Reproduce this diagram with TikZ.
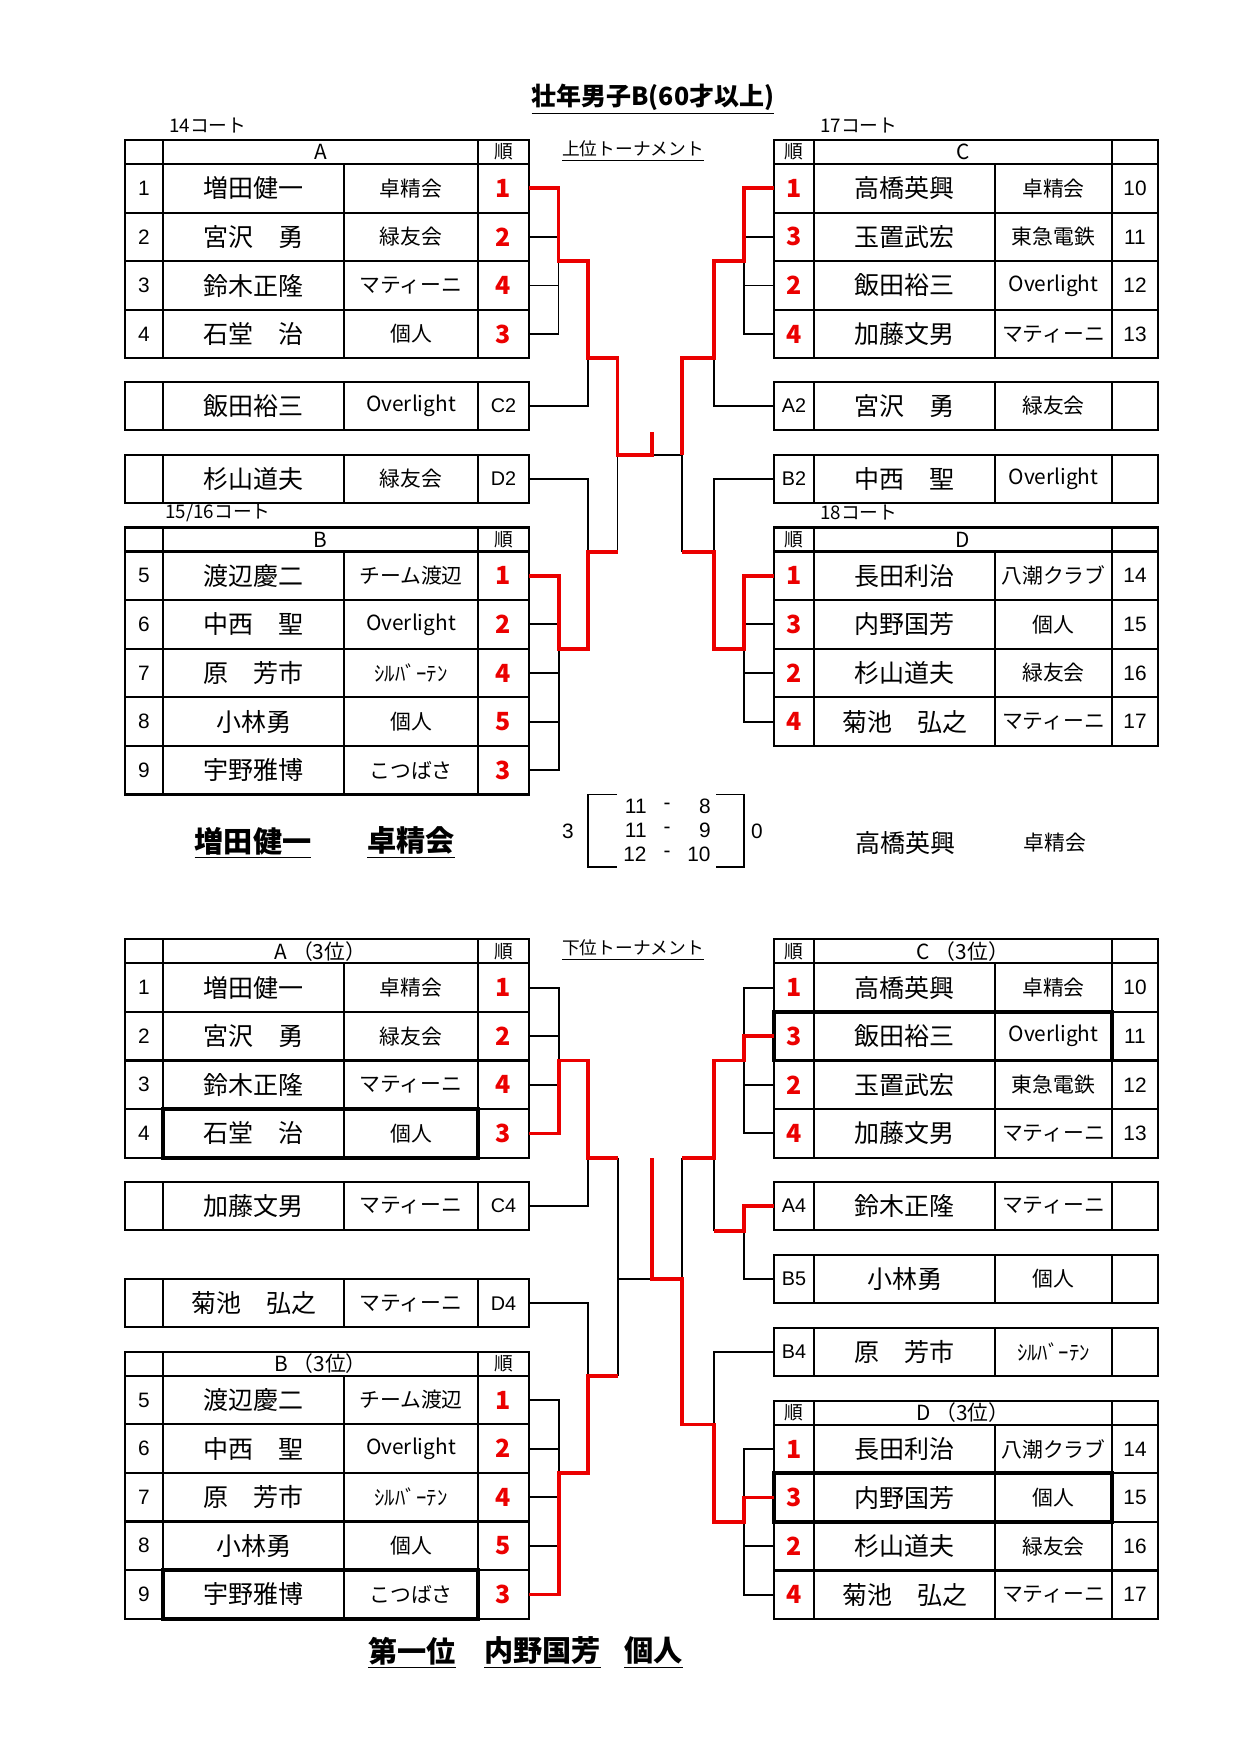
\documentclass[tikz,border=0pt]{standalone}
\usepackage{fontspec}
\setmainfont{Noto Sans CJK JP}
\newfontfamily\latinfont{Liberation Sans}
\usepackage{tikz}
\usetikzlibrary{calc}
\definecolor{rankred}{RGB}{235,0,0}
\tikzstyle{tbl} = [line width=1pt]
\tikzstyle{hilite} = [line width=1.8pt]
\tikzstyle{link} = [line width=0.9pt]
\tikzstyle{win} = [line width=1.8pt,draw=rankred]
\tikzstyle{nametxt} = [inner sep=0pt,font=\fontsize{12}{14}\selectfont]
\tikzstyle{teamtxt} = [inner sep=0pt,font=\fontsize{10}{12}\selectfont]
\tikzstyle{notxt} = [inner sep=0pt,font=\latinfont\fontsize{10}{12}\selectfont]
\tikzstyle{ranktxt} = [inner sep=0pt,text=rankred,font=\bfseries\fontsize{12}{14}\selectfont]
\tikzstyle{labtxt} = [inner sep=0pt,font=\latinfont\fontsize{9.5}{11}\selectfont]
\tikzstyle{headtxt} = [inner sep=0pt,font=\fontsize{10}{12}\selectfont]
\tikzstyle{juntxt} = [inner sep=0pt,font=\fontsize{9}{11}\selectfont]
\tikzstyle{courttxt} = [inner sep=0pt,anchor=west,font=\fontsize{9}{11}\selectfont]
\tikzstyle{scoretxt} = [inner sep=0pt,font=\latinfont\fontsize{10}{12}\selectfont]

% table frames: top, rows, header, name
\newcommand{\ltab}[4]{%
	\draw[tbl] (125,#1) rectangle (529,{#1+24+#2*48.6});
	\foreach \k in {0,...,#2} \draw[tbl] (125,{#1+24+\k*48.6}) -- (529,{#1+24+\k*48.6});
	\draw[tbl] (163,#1) -- (163,{#1+24+#2*48.6}) (478,#1) -- (478,{#1+24+#2*48.6}) (344,{#1+24}) -- (344,{#1+24+#2*48.6});
	\node[headtxt] (#4h) at (320.5,{#1+12}) {#3};
	\node[juntxt] (#4j) at (503.5,{#1+12}) {順};}
\newcommand{\rtab}[4]{%
	\draw[tbl] (774,#1) rectangle (1158,{#1+24+#2*48.6});
	\foreach \k in {0,...,#2} \draw[tbl] (774,{#1+24+\k*48.6}) -- (1158,{#1+24+\k*48.6});
	\draw[tbl] (814,#1) -- (814,{#1+24+#2*48.6}) (1112,#1) -- (1112,{#1+24+#2*48.6}) (995,{#1+24}) -- (995,{#1+24+#2*48.6});
	\node[juntxt] (#4j) at (794,{#1+12}) {順};
	\node[headtxt] (#4h) at (963,{#1+12}) {#3};}
% rows: y, name, ...
\newcommand{\lrow}[6]{%
	\node[notxt] (#2n) at (144,#1) {#3};
	\node[nametxt] (#2m) at (253.5,#1) {#4};
	\node[teamtxt] (#2t) at (411,#1) {#5};
	\node[ranktxt] (#2r) at (503.5,#1) {#6};
	\coordinate (#2) at (529,#1);}
\newcommand{\rrow}[6]{%
	\node[ranktxt] (#2r) at (794,#1) {#3};
	\node[nametxt] (#2m) at (904.5,#1) {#4};
	\node[teamtxt] (#2t) at (1053.5,#1) {#5};
	\node[notxt] (#2n) at (1135,#1) {#6};
	\coordinate (#2) at (774,#1);}
% single boxes: top, name, ...
\newcommand{\lbox}[5]{%
	\draw[tbl] (125,#1) rectangle (529,{#1+48});
	\draw[tbl] (163,#1) -- (163,{#1+48}) (344,#1) -- (344,{#1+48}) (478,#1) -- (478,{#1+48});
	\node[nametxt] (#2m) at (253.5,{#1+24}) {#3};
	\node[teamtxt] (#2t) at (411,{#1+24}) {#4};
	\node[labtxt] (#2l) at (503.5,{#1+24}) {#5};
	\coordinate (#2) at (529,{#1+24});}
\newcommand{\rbox}[5]{%
	\draw[tbl] (774,#1) rectangle (1158,{#1+48});
	\draw[tbl] (814,#1) -- (814,{#1+48}) (995,#1) -- (995,{#1+48}) (1112,#1) -- (1112,{#1+48});
	\node[labtxt] (#2l) at (794,{#1+24}) {#3};
	\node[nametxt] (#2m) at (904.5,{#1+24}) {#4};
	\node[teamtxt] (#2t) at (1053.5,{#1+24}) {#5};
	\coordinate (#2) at (774,{#1+24});}

\begin{document}
\begin{tikzpicture}[x=0.48pt,y=-0.48pt]
	\useasboundingbox (0,0) rectangle (1240,1754);
	\node[font=\bfseries\fontsize{12}{14}\selectfont,inner sep=0pt] (title) at (653,99) {\underline{壮年男子B(60才以上)}};
	\node[courttxt] (ct14) at (169,126) {14コート};
	\node[courttxt] (ct17) at (820,126) {17コート};
	\node[courttxt] (ct15) at (165,513) {15/16コート};
	\node[courttxt] (ct18) at (820,513) {18コート};
	\node[inner sep=0pt,font=\fontsize{8.5}{10}\selectfont] (upper) at (633,151) {\underline{上位トーナメント}};
	\node[inner sep=0pt,font=\fontsize{8.5}{10}\selectfont] (lower) at (633,950) {\underline{下位トーナメント}};

	% upper tournament
	\ltab{140}{4}{A}{tA}
	\lrow{188.3}{uA1}{1}{増田健一}{卓精会}{1}
	\lrow{236.9}{uA2}{2}{宮沢　勇}{緑友会}{2}
	\lrow{285.5}{uA3}{3}{鈴木正隆}{マティーニ}{4}
	\lrow{334.1}{uA4}{4}{石堂　治}{個人}{3}
	\lbox{382}{uC2x}{飯田裕三}{Overlight}{C2}
	\lbox{455}{uD2x}{杉山道夫}{緑友会}{D2}
	\ltab{527.5}{5}{B}{tB}
	\lrow{575.8}{uB5}{5}{渡辺慶二}{チーム渡辺}{1}
	\lrow{624.4}{uB6}{6}{中西　聖}{Overlight}{2}
	\lrow{673.0}{uB7}{7}{原　芳市}{ｼﾙﾊﾞｰﾃﾝ}{4}
	\lrow{721.6}{uB8}{8}{小林勇}{個人}{5}
	\lrow{770.2}{uB9}{9}{宇野雅博}{こつばさ}{3}
	\rtab{140}{4}{C}{tC}
	\rrow{188.3}{uC1}{1}{高橋英興}{卓精会}{10}
	\rrow{236.9}{uC2}{3}{玉置武宏}{東急電鉄}{11}
	\rrow{285.5}{uC3}{2}{飯田裕三}{Overlight}{12}
	\rrow{334.1}{uC4}{4}{加藤文男}{マティーニ}{13}
	\rbox{382}{uA2x}{A2}{宮沢　勇}{緑友会}
	\rbox{455}{uB2x}{B2}{中西　聖}{Overlight}
	\rtab{527.5}{4}{D}{tD}
	\rrow{575.8}{uD1}{1}{長田利治}{八潮クラブ}{14}
	\rrow{624.4}{uD2}{3}{内野国芳}{個人}{15}
	\rrow{673.0}{uD3}{2}{杉山道夫}{緑友会}{16}
	\rrow{721.6}{uD4}{4}{菊池　弘之}{マティーニ}{17}

	\coordinate (ja) at (558.5,261.2);
	\coordinate (jac) at (588,358);
	\coordinate (jl) at (617.5,455);
	\coordinate (jb) at (559,648.7);
	\coordinate (jbd) at (588,551.7);
	\coordinate (jlb) at (617.5,551.7);
	\coordinate (fin) at (652,455);
	\coordinate (tick1) at (652,431.7);
	\coordinate (jr) at (682,455);
	\coordinate (jc) at (744,261.2);
	\coordinate (jca) at (714,358);
	\coordinate (jd) at (744,648.7);
	\coordinate (jdb) at (714,551.7);
	\coordinate (jrb) at (682,551.7);

	\draw[link] (uA2) -- (uA2 -| ja) (uA3) -- (uA3 -| ja) (uA4) -| (ja);
	\draw[link] (uC2x) -| (jac);
	\draw[link] (uB6) -- (uB6 -| jb) (uB7) -- (uB7 -| jb) (uB8) -- (uB8 -| jb) (uB9) -| (jb);
	\draw[link] (uD2x) -| (jbd);
	\draw[link] (jl) -- (jlb) (fin) -- (jr);
	\draw[link] (uC2) -- (uC2 -| jc) (uC3) -- (uC3 -| jc) (uC4) -| (jc);
	\draw[link] (uA2x) -| (jca);
	\draw[link] (uD2) -- (uD2 -| jd) (uD3) -- (uD3 -| jd) (uD4) -| (jd);
	\draw[link] (uB2x) -| (jdb);
	\draw[link] (jr) -- (jrb);
	\draw[win] (uA1) -| (ja) -| (jac) -| (jl) -| (tick1);
	\draw[win] (uB5) -| (jb) -| (jbd) -- (jlb);
	\draw[win] (uC1) -| (jc) -| (jca) -| (jr);
	\draw[win] (uD1) -| (jd) -| (jdb) -- (jrb);

	% final score
	\draw[link] (617,794.5) -- (588,794.5) -- (588,867) -- (617,867);
	\draw[link] (716,794.5) -- (744,794.5) -- (744,867) -- (716,867);
	\node[scoretxt] (setL) at (568,831) {3};
	\node[scoretxt] (setR) at (757,831) {0};
	\node[scoretxt,anchor=east] (g1a) at (647,806) {11};
	\node[scoretxt] (g1d) at (667,806) {-};
	\node[scoretxt,anchor=east] (g1b) at (711,806) {8};
	\node[scoretxt,anchor=east] (g2a) at (647,830) {11};
	\node[scoretxt] (g2d) at (667,830) {-};
	\node[scoretxt,anchor=east] (g2b) at (711,830) {9};
	\node[scoretxt,anchor=east] (g3a) at (647,854) {12};
	\node[scoretxt] (g3d) at (667,854) {-};
	\node[scoretxt,anchor=east] (g3b) at (711,854) {10};
	\node[font=\bfseries\fontsize{14}{16}\selectfont,inner sep=0pt] (champ) at (253,843) {\underline{増田健一}};
	\node[font=\bfseries\fontsize{14}{16}\selectfont,inner sep=0pt] (champt) at (411,843) {\underline{卓精会}};
	\node[nametxt] (second) at (905,843) {高橋英興};
	\node[teamtxt] (secondt) at (1055,843) {卓精会};

	% lower tournament
	\ltab{939.3}{4}{A （3位）}{tA3}
	\lrow{987.6}{lA1}{1}{増田健一}{卓精会}{1}
	\lrow{1036.2}{lA2}{2}{宮沢　勇}{緑友会}{2}
	\lrow{1084.8}{lA3}{3}{鈴木正隆}{マティーニ}{4}
	\lrow{1133.4}{lA4}{4}{石堂　治}{個人}{3}
	\lbox{1182}{lC4x}{加藤文男}{マティーニ}{C4}
	\lbox{1279.3}{lD4x}{菊池　弘之}{マティーニ}{D4}
	\ltab{1351.7}{5}{B （3位）}{tB3}
	\lrow{1400}{lB5}{5}{渡辺慶二}{チーム渡辺}{1}
	\lrow{1448.6}{lB6}{6}{中西　聖}{Overlight}{2}
	\lrow{1497.2}{lB7}{7}{原　芳市}{ｼﾙﾊﾞｰﾃﾝ}{4}
	\lrow{1545.8}{lB8}{8}{小林勇}{個人}{5}
	\lrow{1594.4}{lB9}{9}{宇野雅博}{こつばさ}{3}
	\rtab{939.3}{4}{C （3位）}{tC3}
	\rrow{987.6}{lC1}{1}{高橋英興}{卓精会}{10}
	\rrow{1036.2}{lC2}{3}{飯田裕三}{Overlight}{11}
	\rrow{1084.8}{lC3}{2}{玉置武宏}{東急電鉄}{12}
	\rrow{1133.4}{lC4}{4}{加藤文男}{マティーニ}{13}
	\rbox{1182}{lA4x}{A4}{鈴木正隆}{マティーニ}
	\rbox{1255}{lB5x}{B5}{小林勇}{個人}
	\rbox{1327.7}{lB4x}{B4}{原　芳市}{ｼﾙﾊﾞｰﾃﾝ}
	\rtab{1400.7}{4}{D （3位）}{tD3}
	\rrow{1449}{lD1}{1}{長田利治}{八潮クラブ}{14}
	\rrow{1497.6}{lD2}{3}{内野国芳}{個人}{15}
	\rrow{1546.2}{lD3}{2}{杉山道夫}{緑友会}{16}
	\rrow{1594.8}{lD4}{4}{菊池　弘之}{マティーニ}{17}
	\draw[hilite] (163,1109.1) rectangle (478,1157.7);
	\draw[hilite] (163,1570.1) rectangle (478,1618.7);
	\draw[hilite] (774,1011.9) rectangle (1112,1060.5);
	\draw[hilite] (774,1473.3) rectangle (1112,1521.9);

	\coordinate (lja) at (559,1060.5);
	\coordinate (ljac) at (588,1157.7);
	\coordinate (ljt) at (618,1157.7);
	\coordinate (ljb) at (559,1472.9);
	\coordinate (ljbd) at (588,1376);
	\coordinate (ljlb) at (618,1376);
	\coordinate (ljm) at (618,1279);
	\coordinate (lfin) at (651.7,1279);
	\coordinate (ltick) at (651.7,1158.3);
	\coordinate (ljr) at (682,1279);
	\coordinate (ljc) at (744,1060.5);
	\coordinate (ljca) at (714,1157.7);
	\coordinate (ljrt) at (682,1157.7);
	\coordinate (lja4) at (744,1230.7);
	\coordinate (ljcab) at (714,1230.7);
	\coordinate (ljd) at (744,1521.9);
	\coordinate (ljdb) at (714,1424.5);

	\draw[link] (lA1) -| (lja) (lA2) -- (lA2 -| lja) (lA3) -- (lA3 -| lja);
	\draw[link] (lC4x) -| (ljac);
	\draw[link] (lB5) -| (ljb) (lB6) -- (lB6 -| ljb) (lB7) -- (lB7 -| ljb) (lB8) -- (lB8 -| ljb);
	\draw[link] (lD4x) -| (ljbd);
	\draw[link] (ljt) -- (ljlb) (ljm) -- (lfin);
	\draw[link] (lC1) -| (ljc) (lC3) -- (lC3 -| ljc) (lC4) -| (ljc);
	\draw[link] (ljca) -- (ljcab) (lB5x) -| (lja4);
	\draw[link] (lD1) -| (ljd) (lD3) -- (lD3 -| ljd) (lD4) -| (ljd);
	\draw[link] (lB4x) -| (ljdb) (ljrt) -- (ljr);
	\draw[win] (lA4) -| (lja) -| (ljac) -- (ljt);
	\draw[win] (lB9) -| (ljb) -| (ljbd) -- (ljlb);
	\draw[win] (lC2) -| (ljc) -| (ljca) -- (ljrt);
	\draw[win] (lA4x) -| (lja4) -- (ljcab);
	\draw[win] (lD2) -| (ljd) -| (ljdb) -| (ljr) -- (lfin) -- (ltick);

	\node[font=\bfseries\fontsize{14}{16}\selectfont,inner sep=0pt] (first) at (412,1653) {\underline{第一位}};
	\node[font=\bfseries\fontsize{14}{16}\selectfont,inner sep=0pt] (firstm) at (542.5,1653) {\underline{内野国芳}};
	\node[font=\bfseries\fontsize{14}{16}\selectfont,inner sep=0pt] (firstt) at (653.5,1653) {\underline{個人}};
\end{tikzpicture}
\end{document}
